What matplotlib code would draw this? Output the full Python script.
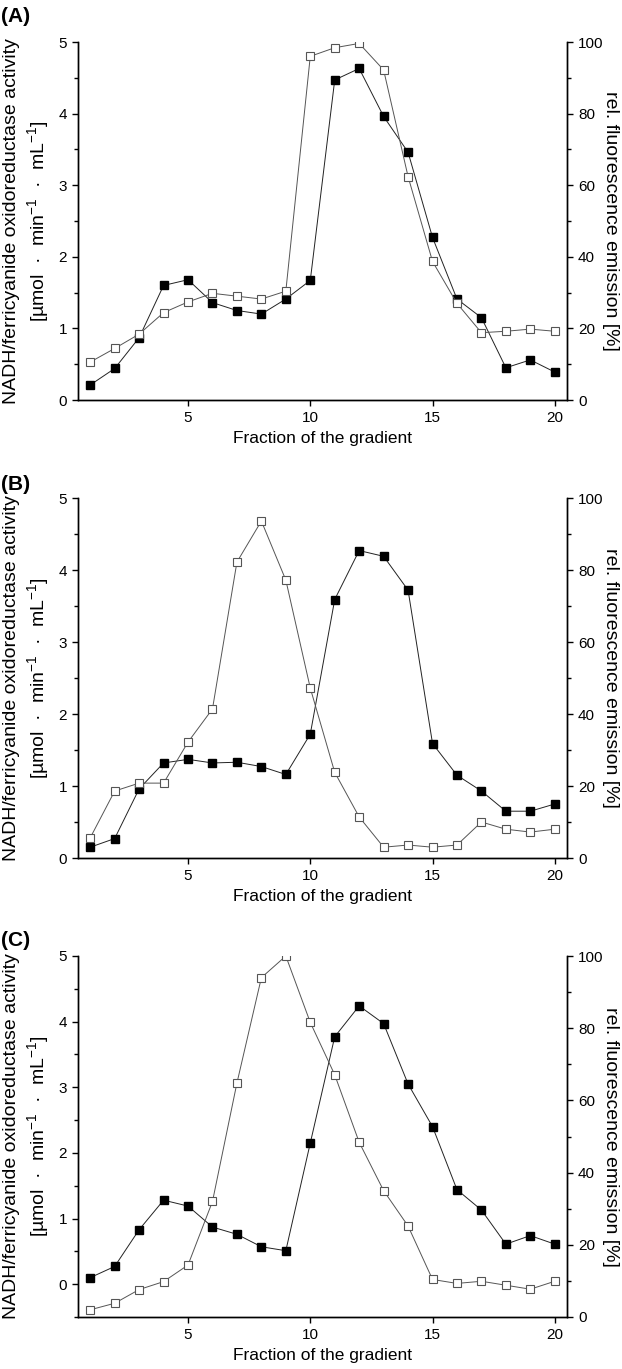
import matplotlib
matplotlib.use("Agg")
import matplotlib.pyplot as plt
from matplotlib.ticker import MultipleLocator

plt.rcParams['font.family'] = ['Liberation Sans', 'DejaVu Sans']
plt.rcParams['mathtext.fontset'] = 'custom'
plt.rcParams['mathtext.rm'] = 'Liberation Sans'
plt.rcParams['mathtext.it'] = 'Liberation Sans:italic'
plt.rcParams['mathtext.bf'] = 'Liberation Sans:bold'

fractions = list(range(1, 21))

# NADH/ferricyanide oxidoreductase activity (left axis, filled squares)
act_a = [0.21, 0.44, 0.87, 1.60, 1.68, 1.36, 1.25, 1.20, 1.41, 1.67,
         4.47, 4.63, 3.96, 3.46, 2.27, 1.41, 1.15, 0.45, 0.56, 0.39]
act_b = [0.15, 0.27, 0.96, 1.32, 1.37, 1.32, 1.33, 1.27, 1.16, 1.72,
         3.59, 4.27, 4.19, 3.72, 1.59, 1.15, 0.93, 0.65, 0.65, 0.75]
act_c = [0.10, 0.27, 0.83, 1.28, 1.19, 0.87, 0.76, 0.57, 0.51, 2.15,
         3.77, 4.24, 3.97, 3.05, 2.40, 1.44, 1.13, 0.61, 0.74, 0.61]

# rel. fluorescence emission in % (right axis, open squares)
fl_a = [10.6, 14.4, 18.4, 24.4, 27.4, 29.8, 29.0, 28.2, 30.4, 96.0,
        98.4, 99.6, 92.2, 62.4, 38.7, 27.0, 18.8, 19.2, 19.8, 19.2]
fl_b = [5.6, 18.6, 20.8, 20.8, 32.2, 41.4, 82.2, 93.6, 77.2, 47.2,
        23.8, 11.4, 3.0, 3.6, 3.0, 3.6, 10.0, 8.0, 7.2, 8.0]
fl_c = [2.0, 3.8, 7.6, 9.8, 14.4, 32.0, 64.8, 94.0, 100.0, 81.6,
        67.1, 48.4, 35.0, 25.2, 10.4, 9.3, 9.9, 8.8, 7.7, 9.9]

panels = ['(A)', '(B)', '(C)']
left_ylims = [(0, 5), (0, 5), (-0.5, 5)]

W, H = 622, 1369
fig = plt.figure(figsize=(W / 100, H / 100), dpi=100)

# axes boxes in pixels: (top, bottom)
boxes = [(42, 400), (498, 858), (956, 1317)]
ax_l, ax_r = 78, 567
label_y = [16, 484, 941]

act_all = [act_a, act_b, act_c]
fl_all = [fl_a, fl_b, fl_c]

for i in range(3):
    top, bot = boxes[i]
    ax = fig.add_axes([ax_l / W, 1 - bot / H, (ax_r - ax_l) / W, (bot - top) / H])
    ax2 = ax.twinx()

    ax.plot(fractions, act_all[i], color='#222222', lw=0.7, marker='s', ms=5.5,
            mfc='black', mec='black', zorder=3)
    ax2.plot(fractions, fl_all[i], color='#555555', lw=0.7, marker='s', ms=5.5,
             mfc='white', mec='#555555', mew=0.8, zorder=3)

    ax.set_xlim(0.5, 20.5)
    ax.set_ylim(*left_ylims[i])
    ax2.set_ylim(0, 100)

    ax.xaxis.set_major_locator(MultipleLocator(5))
    ax.yaxis.set_major_locator(MultipleLocator(1))
    ax.yaxis.set_minor_locator(MultipleLocator(0.5))
    ax2.yaxis.set_major_locator(MultipleLocator(20))
    ax2.yaxis.set_minor_locator(MultipleLocator(10))

    for a in (ax, ax2):
        a.spines['top'].set_visible(False)
        for s in a.spines.values():
            s.set_linewidth(1.0)
        a.tick_params(which='major', direction='out', length=4.5, width=1.0, labelsize=11)
        a.tick_params(which='minor', direction='out', length=3, width=1.0)

    ax.set_xlabel('Fraction of the gradient', fontsize=12.5, labelpad=4)

    fig.text(27 / W, 1 - (top + bot) / 2 / H,
             'NADH/ferricyanide oxidoreductase activity\n[µmol  ·  min$^{-1}$  ·  mL$^{-1}$]',
             rotation=90, ha='center', va='center', fontsize=14, linespacing=1.25)
    fig.text(611 / W, 1 - (top + bot) / 2 / H, 'rel. fluorescence emission [%]',
             rotation=270, ha='center', va='center', fontsize=14)

    fig.text(1 / W, 1 - label_y[i] / H, panels[i], fontsize=15, fontweight='bold',
             ha='left', va='center')

fig.savefig('out.png', dpi=100)
